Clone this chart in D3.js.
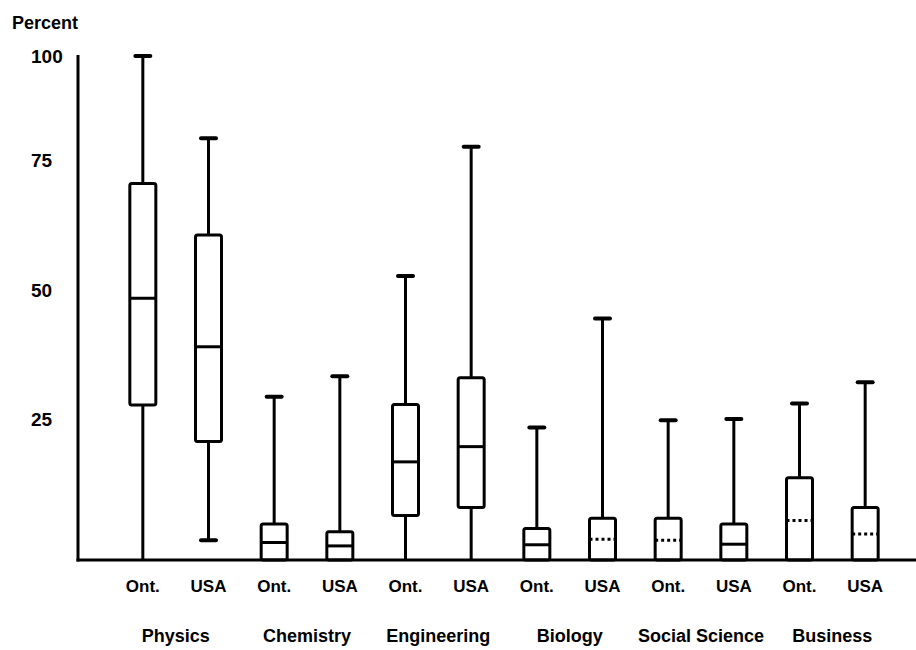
<!DOCTYPE html>
<html>
<head>
<meta charset="utf-8">
<script src="https://cdn.jsdelivr.net/npm/d3@7"></script>
<style>
  body { margin: 0; background: #fff; }
  svg { display: block; }
  text { font-family: "Liberation Sans", Arial, Helvetica, sans-serif; font-weight: bold; fill: #000; }
</style>
</head>
<body>
<div class="chart"></div>
<script>
// fields and the two regions compared in each
const fields = ['Physics', 'Chemistry', 'Engineering', 'Biology', 'Social Science', 'Business']
const regions = ['Ont.', 'USA']

// five-number summaries, in field order, Ont. then USA (percent)
const maxVals    = [100, 80.2, 29.3, 33.3, 52.7, 78.2, 23.5, 44.5, 24.8, 25.0, 28.0, 32.1]
const q3Vals     = [70.5, 60.6, 6.4, 5.0, 27.8, 33.0, 5.6, 7.4, 7.4, 6.4, 14.6, 9.3]
const medianVals = [48.4, 39.0, 3.1, 2.5, 17.4, 20.1, 2.7, 3.7, 3.5, 2.8, 7.0, 4.6]
const q1Vals     = [27.7, 21.0, 0, 0, 7.9, 9.3, 0, 0, 0, 0, 0, 0]
const minVals    = [0, 3.5, 0, 0, 0, 0, 0, 0, 0, 0, 0, 0]

const yTicks = [25, 50, 75, 100]

// medians that were printed with a dotted line
const DOTTED = ['Biology|USA', 'Social Science|Ont.', 'Business|Ont.', 'Business|USA']

const W = 916
const H = 650
const AXIS_X = 78
const BASE_Y = 560

const boxes = []
fields.forEach((f, i) => {
  regions.forEach((r, j) => {
    const k = i * regions.length + j
    boxes.push({
      key: `${f}|${r}`,
      field: f,
      region: r,
      max: maxVals[k],
      q3: q3Vals[k],
      median: medianVals[k],
      q1: q1Vals[k],
      min: minVals[k],
    })
  })
})

const svg = d3
  .select('.chart')
  .append('svg')
  .attr('width', W)
  .attr('height', H)

// the printed axis is not evenly spaced, so the scale follows the printed ticks
const y = d3
  .scaleLinear()
  .domain([0, 25, 50, 75, 100])
  .range([BASE_Y, 419, 290, 160, 56])

const x = d3
  .scaleBand()
  .domain(boxes.map(d => d.key))
  .range([110, 898])

const xField = d3
  .scaleBand()
  .domain(fields)
  .range([110, 898])

const boxW = 26
const capW = 15

// y axis
const yAxis = svg
  .append('g')
  .attr('transform', `translate(${AXIS_X},0)`)
  .call(d3.axisLeft(y).tickValues(yTicks).tickSize(0).tickPadding(0))

yAxis.select('.domain').remove()
yAxis
  .selectAll('text')
  .attr('x', -47)
  .attr('dy', '0.36em')
  .attr('text-anchor', 'start')
  .attr('font-size', 19)
  .attr('font-family', null)

svg
  .append('line')
  .attr('x1', AXIS_X)
  .attr('x2', AXIS_X)
  .attr('y1', 55)
  .attr('y2', BASE_Y + 1.5)
  .attr('stroke', '#000')
  .attr('stroke-width', 3)

svg
  .append('text')
  .attr('x', 12)
  .attr('y', 29)
  .attr('font-size', 18)
  .text('Percent')

// boxes
const g = svg
  .selectAll('.box')
  .data(boxes)
  .enter()
  .append('g')
  .attr('class', 'box')
  .attr('transform', d => `translate(${x(d.key) + x.bandwidth() / 2},0)`)

g.append('line')
  .attr('y1', d => y(d.max))
  .attr('y2', d => y(d.q3))
  .attr('stroke', '#000')
  .attr('stroke-width', 3)

g.append('line')
  .attr('y1', d => y(d.q1))
  .attr('y2', d => y(d.min))
  .attr('stroke', '#000')
  .attr('stroke-width', 3)

g.append('line')
  .attr('x1', -capW / 2)
  .attr('x2', capW / 2)
  .attr('y1', d => y(d.max))
  .attr('y2', d => y(d.max))
  .attr('stroke', '#000')
  .attr('stroke-width', 4)
  .attr('stroke-linecap', 'round')

g.filter(d => d.min > 0)
  .append('line')
  .attr('x1', -capW / 2)
  .attr('x2', capW / 2)
  .attr('y1', d => y(d.min))
  .attr('y2', d => y(d.min))
  .attr('stroke', '#000')
  .attr('stroke-width', 4)
  .attr('stroke-linecap', 'round')

g.append('rect')
  .attr('x', -boxW / 2)
  .attr('width', boxW)
  .attr('y', d => y(d.q3))
  .attr('height', d => y(d.q1) - y(d.q3))
  .attr('rx', 2)
  .attr('fill', '#fff')
  .attr('stroke', '#000')
  .attr('stroke-width', 3)

g.append('line')
  .attr('x1', -boxW / 2)
  .attr('x2', boxW / 2)
  .attr('y1', d => y(d.median))
  .attr('y2', d => y(d.median))
  .attr('stroke', '#000')
  .attr('stroke-width', 3)
  .attr('stroke-dasharray', d => (DOTTED.includes(d.key) ? '3,3' : null))

// baseline
svg
  .append('line')
  .attr('x1', AXIS_X - 1.5)
  .attr('x2', W)
  .attr('y1', BASE_Y)
  .attr('y2', BASE_Y)
  .attr('stroke', '#000')
  .attr('stroke-width', 3)

// region labels under each box
const xAxis = svg
  .append('g')
  .attr('transform', `translate(0,${BASE_Y})`)
  .call(
    d3
      .axisBottom(x)
      .tickSize(0)
      .tickPadding(0)
      .tickFormat(k => k.split('|')[1]),
  )

xAxis.select('.domain').remove()
xAxis
  .selectAll('text')
  .attr('dy', null)
  .attr('y', 32)
  .attr('font-size', 17)
  .attr('font-family', null)

// field labels under each pair
const fieldAxis = svg
  .append('g')
  .attr('transform', `translate(0,${BASE_Y})`)
  .call(d3.axisBottom(xField).tickSize(0).tickPadding(0))

fieldAxis.select('.domain').remove()
fieldAxis
  .selectAll('text')
  .attr('dy', null)
  .attr('y', 82)
  .attr('font-size', 18)
  .attr('font-family', null)
</script>
</body>
</html>
